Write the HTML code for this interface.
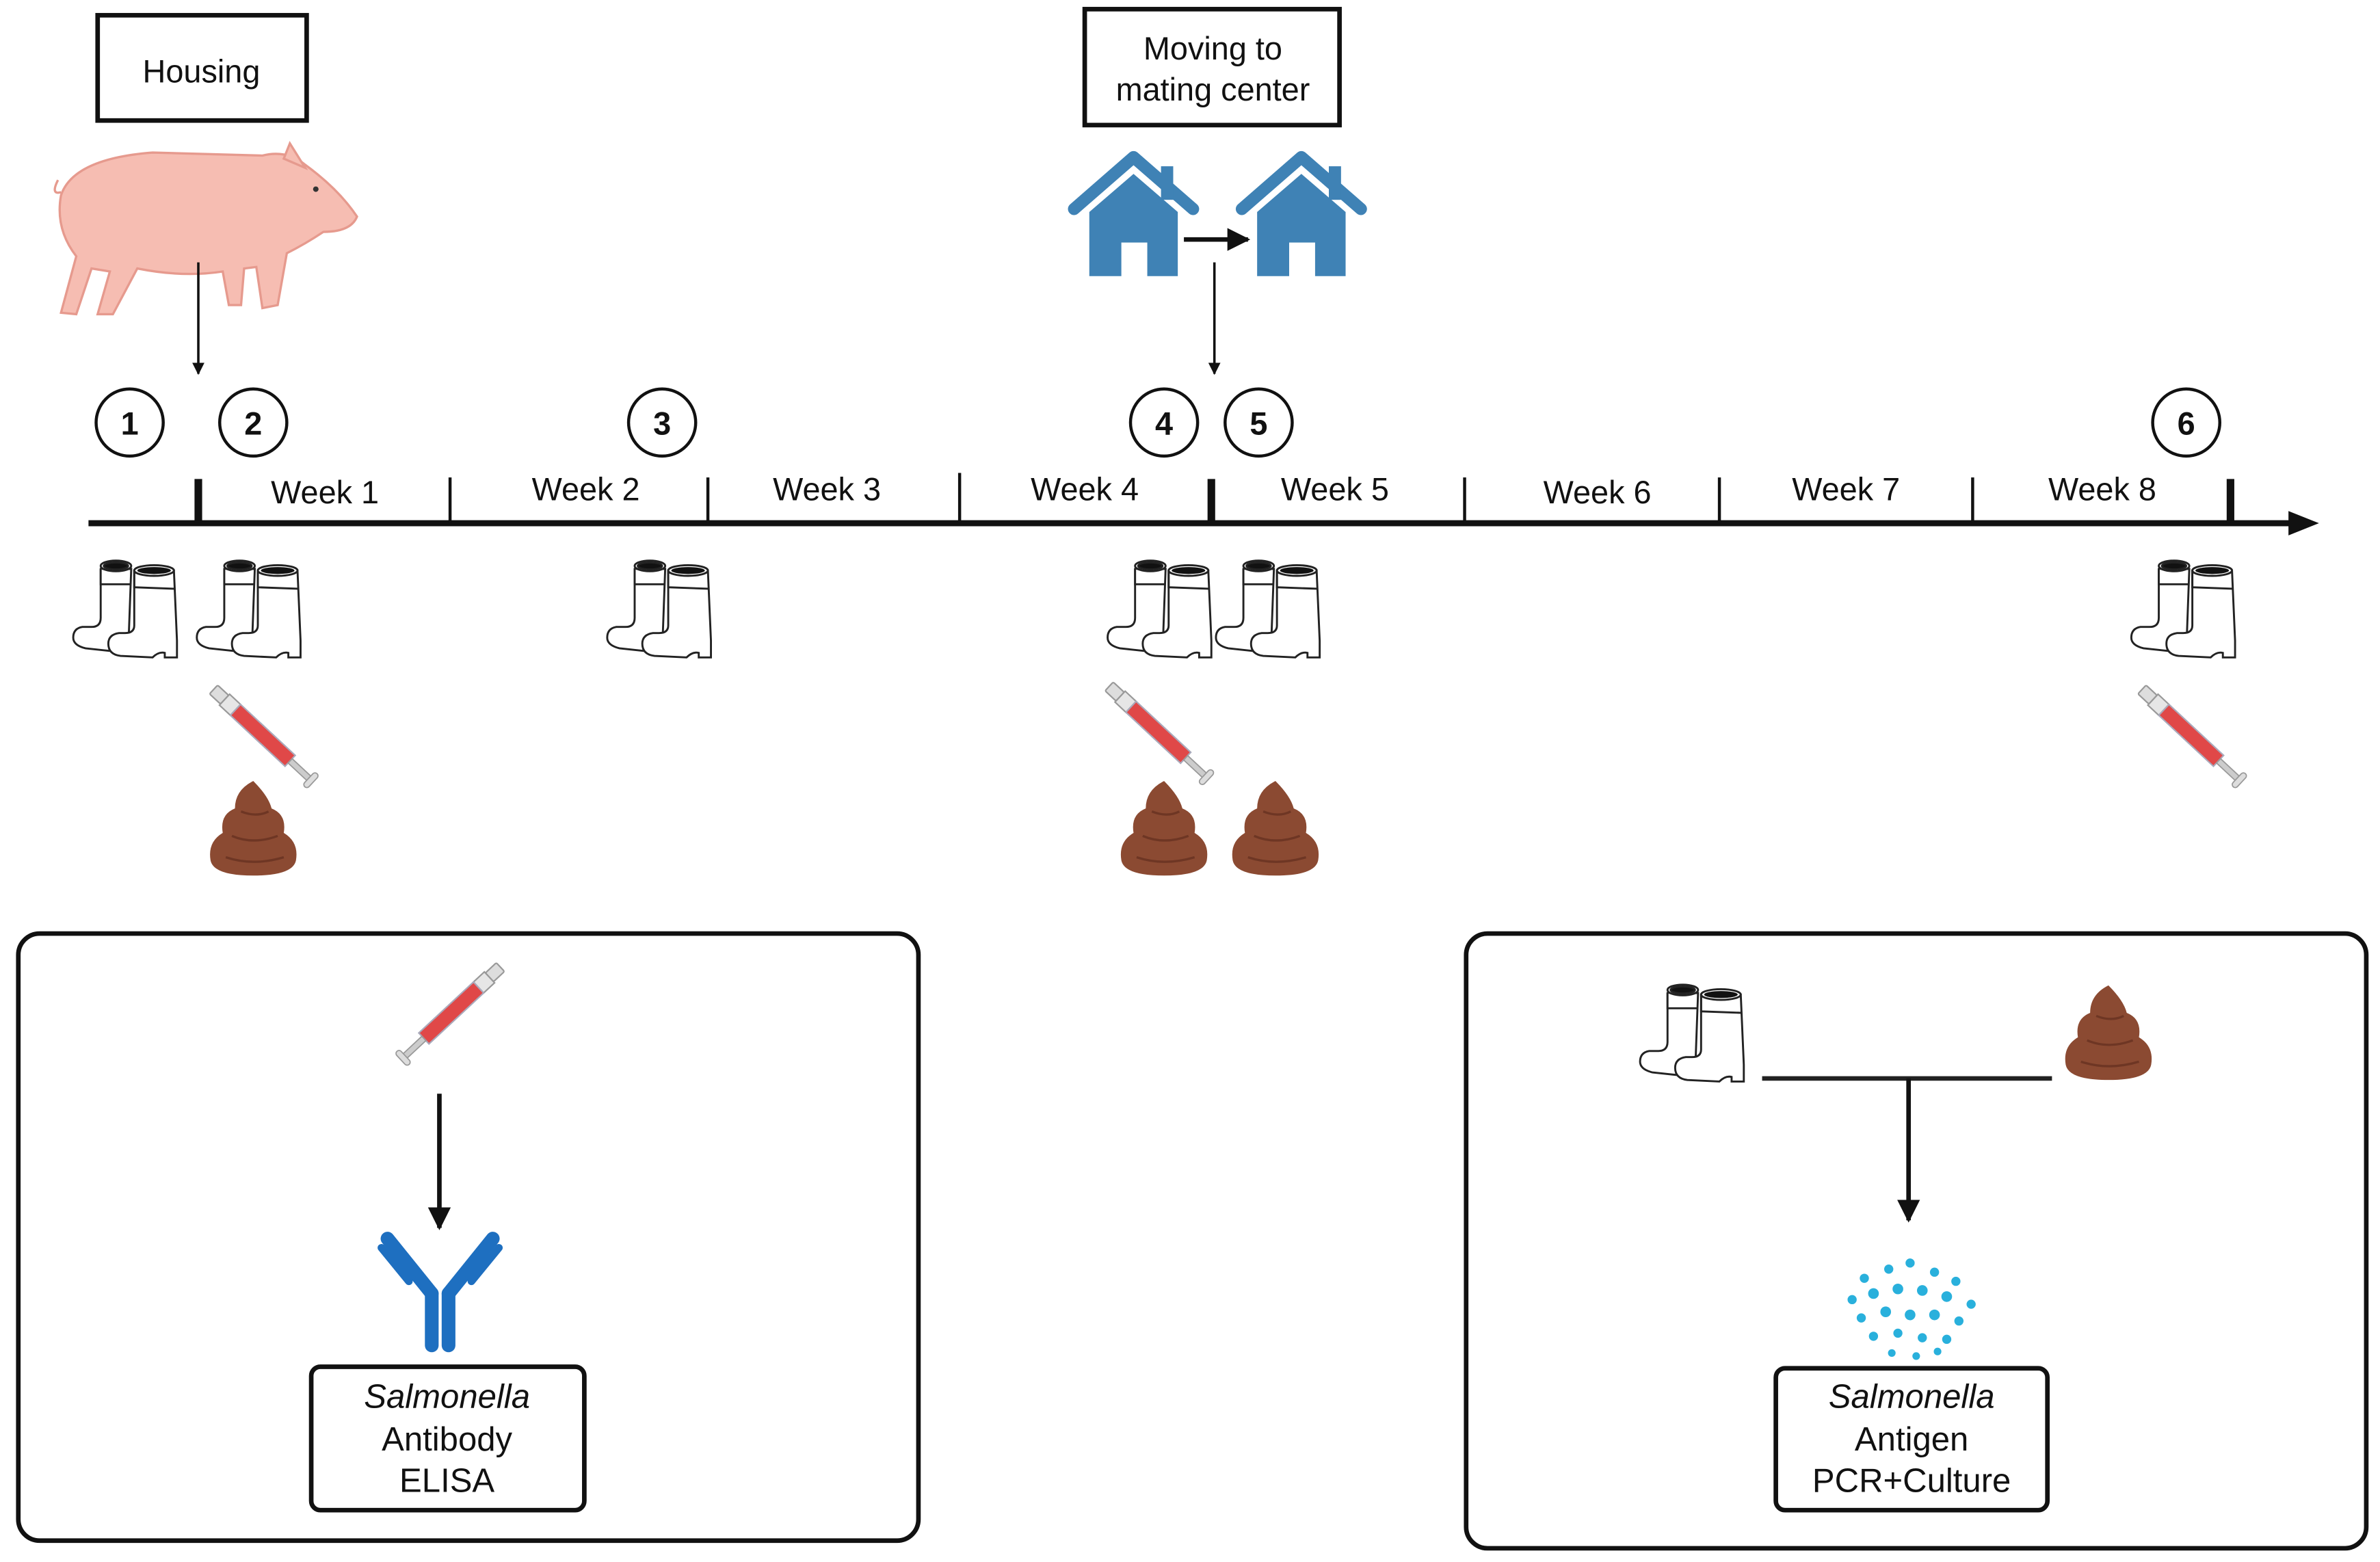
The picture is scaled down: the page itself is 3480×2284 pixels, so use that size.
<!DOCTYPE html>
<html><head><meta charset="utf-8"><style>
html,body{margin:0;padding:0;background:#fff;}
svg{display:block}
text{font-family:"Liberation Sans","DejaVu Sans",sans-serif;fill:#111;}
</style></head><body>
<svg width="3480" height="2284" viewBox="0 0 1560 1024" preserveAspectRatio="none" xmlns="http://www.w3.org/2000/svg">
<defs>
<marker id="ah" viewBox="0 0 10 10" refX="9" refY="5" markerWidth="5" markerHeight="5" orient="auto" markerUnits="strokeWidth"><path d="M0,0 L10,5 L0,10 z" fill="#111"/></marker>
<g id="boot1" fill="#fff" stroke="#222" stroke-width="1.3">
<path d="M18,8 L18,40 Q18,46 12,46 L6,46 Q0,47 0,53 Q0,58 8,60 L36,63 L38,8 Z"/>
<path d="M18,8 L18,18 L38,18"/>
<ellipse cx="28" cy="6" rx="10" ry="3.5" fill="#fff"/>
<ellipse cx="28" cy="6" rx="8" ry="2.3" fill="#111"/>
</g>
<g id="boots">
<use href="#boot1"/>
<g transform="translate(18,3)">
<path d="M22,6 L22,42 Q22,47 16,47 L12,47 Q5,48 5,54 Q5,61 13,62 L34,63 Q38,59 42,60 L42,63 L50,63 L50,52 L48,6 Z" fill="#fff" stroke="#222" stroke-width="1.3"/>
<path d="M22,6 L22,17 L49,18" fill="none" stroke="#222" stroke-width="1.3"/>
<ellipse cx="35" cy="6" rx="13" ry="3.5" fill="#fff" stroke="#222" stroke-width="1.3"/>
<ellipse cx="35" cy="6" rx="11" ry="2.3" fill="#111"/>
</g>
</g>
<g id="syr">
<rect x="0" y="-4" width="10" height="8" rx="1" fill="#ddd" stroke="#999" stroke-width="1"/>
<rect x="10" y="-5" width="10" height="10" fill="#e6e6e6" stroke="#999" stroke-width="1"/>
<rect x="20" y="-5" width="50" height="10" fill="#e04848" stroke="#aab" stroke-width="1"/>
<rect x="70" y="-2" width="18" height="4" fill="#ccc" stroke="#999" stroke-width="0.8"/>
<rect x="87" y="-6" width="4" height="12" rx="2" fill="#ddd" stroke="#999" stroke-width="0.8"/>
</g>
<g id="poop">
<path d="M26,0 Q14,6 14,18 Q4,22 6,34 Q-4,40 -2,52 Q0,62 26,62 Q52,62 54,52 Q56,40 46,34 Q48,22 38,18 Q36,10 26,0 Z" fill="#8b4a32"/>
<path d="M12,36 Q26,42 42,36 M8,50 Q26,56 46,50 M18,20 Q28,24 36,20" fill="none" stroke="#6e3624" stroke-width="1.5"/>
</g>
<g id="house" fill="#3f82b5">
<path d="M4,38 L43,4 L82,38" fill="none" stroke="#3f82b5" stroke-width="8" stroke-linecap="round" stroke-linejoin="round"/>
<rect x="61" y="10" width="8" height="22"/>
<path d="M14,40 L43,15 L72,40 L72,82 L52,82 L52,60 L35,60 L35,82 L14,82 Z"/>
</g>
</defs>

<rect x="64" y="10" width="137" height="69" fill="#fff" stroke="#111" stroke-width="3"/>
<text x="132" y="54" font-size="21" text-anchor="middle">Housing</text>
<rect x="711" y="6" width="167" height="76" fill="#fff" stroke="#111" stroke-width="3"/>
<text x="795" y="39" font-size="21" text-anchor="middle">Moving to</text>
<text x="795" y="66" font-size="21" text-anchor="middle">mating center</text>

<!-- pig -->
<g fill="#f6bdb2" stroke="#e69a8e" stroke-width="1.5">
<path d="M40,205 L50,168 Q36,150 40,128 Q48,104 100,100 L172,102 Q188,98 200,108 Q222,124 234,142 Q230,152 212,152 Q200,160 188,166 L182,200 L172,202 L168,175 L160,176 L158,200 L150,200 L146,178 Q120,182 90,176 L74,206 L64,206 L72,178 L60,176 L50,206 Z"/>
<path d="M186,104 L190,94 L200,110 Z"/>
<path d="M40,126 Q33,128 38,118" fill="none"/>
</g>
<circle cx="207" cy="124" r="1.8" fill="#333"/>

<use href="#house" x="700" y="99"/>
<use href="#house" x="810" y="99"/>
<line x1="776" y1="157" x2="818" y2="157" stroke="#111" stroke-width="3" marker-end="url(#ah)"/>

<line x1="130" y1="172" x2="130" y2="245" stroke="#111" stroke-width="1.6" marker-end="url(#ah)"/>
<line x1="796" y1="172" x2="796" y2="245" stroke="#111" stroke-width="1.6" marker-end="url(#ah)"/>

<g fill="#fff" stroke="#111" stroke-width="2">
<circle cx="85" cy="277" r="22"/><circle cx="166" cy="277" r="22"/><circle cx="434" cy="277" r="22"/>
<circle cx="763" cy="277" r="22"/><circle cx="825" cy="277" r="22"/><circle cx="1433" cy="277" r="22"/>
</g>
<g font-size="21" font-weight="bold" text-anchor="middle">
<text x="85" y="285">1</text><text x="166" y="285">2</text><text x="434" y="285">3</text>
<text x="763" y="285">4</text><text x="825" y="285">5</text><text x="1433" y="285">6</text>
</g>

<line x1="58" y1="343" x2="1505" y2="343" stroke="#111" stroke-width="4"/>
<path d="M1500,335 L1520,343 L1500,351 Z" fill="#111"/>
<g stroke="#111" stroke-width="5"><line x1="130" y1="314" x2="130" y2="343"/><line x1="794" y1="314" x2="794" y2="343"/><line x1="1462" y1="314" x2="1462" y2="343"/></g>
<g stroke="#111" stroke-width="2"><line x1="295" y1="313" x2="295" y2="343"/><line x1="464" y1="313" x2="464" y2="343"/><line x1="629" y1="310" x2="629" y2="343"/><line x1="960" y1="313" x2="960" y2="343"/><line x1="1127" y1="313" x2="1127" y2="343"/><line x1="1293" y1="313" x2="1293" y2="343"/></g>
<g font-size="21" text-anchor="middle">
<text x="213" y="330">Week 1</text><text x="384" y="328">Week 2</text><text x="542" y="328">Week 3</text>
<text x="711" y="328">Week 4</text><text x="875" y="328">Week 5</text><text x="1047" y="330">Week 6</text>
<text x="1210" y="328">Week 7</text><text x="1378" y="328">Week 8</text>
</g>

<use href="#boots" x="48" y="365"/><use href="#boots" x="129" y="365"/><use href="#boots" x="398" y="365"/>
<use href="#boots" x="726" y="365"/><use href="#boots" x="797" y="365"/><use href="#boots" x="1397" y="365"/>

<use href="#syr" transform="translate(140,452) rotate(43) scale(0.98)"/>
<use href="#syr" transform="translate(727,450) rotate(43) scale(0.98)"/>
<use href="#syr" transform="translate(1404,452) rotate(43) scale(0.98)"/>

<use href="#poop" x="140" y="512"/>
<use href="#poop" x="737" y="512"/>
<use href="#poop" x="810" y="512"/>

<rect x="12" y="612" width="590" height="398" rx="14" fill="none" stroke="#111" stroke-width="3"/>
<use href="#syr" transform="translate(328,634) rotate(137) scale(0.98)"/>
<line x1="288" y1="717" x2="288" y2="805" stroke="#111" stroke-width="3" marker-end="url(#ah)"/>
<g stroke="#1e6fc0" stroke-width="9" stroke-linecap="round" fill="none">
<line x1="283" y1="848" x2="283" y2="882"/><line x1="294" y1="848" x2="294" y2="882"/>
<line x1="283" y1="848" x2="254" y2="812"/><line x1="294" y1="848" x2="323" y2="812"/>
<line x1="268" y1="840" x2="250" y2="818" stroke-width="5"/><line x1="309" y1="840" x2="327" y2="818" stroke-width="5"/>
</g>
<rect x="204" y="896" width="179" height="94" rx="6" fill="#fff" stroke="#111" stroke-width="3"/>
<g font-size="22" text-anchor="middle">
<text x="293" y="923" font-style="italic">Salmonella</text><text x="293" y="951">Antibody</text><text x="293" y="978">ELISA</text>
</g>

<rect x="961" y="612" width="590" height="403" rx="14" fill="none" stroke="#111" stroke-width="3"/>
<use href="#boots" x="1075" y="643"/>
<use href="#poop" x="1356" y="646"/>
<line x1="1155" y1="707" x2="1345" y2="707" stroke="#222" stroke-width="3"/>
<line x1="1251" y1="707" x2="1251" y2="800" stroke="#111" stroke-width="3" marker-end="url(#ah)"/>
<g fill="#29b0dc">
<circle cx="1222" cy="838" r="3"/><circle cx="1238" cy="832" r="3"/><circle cx="1252" cy="828" r="3"/><circle cx="1268" cy="834" r="3"/><circle cx="1282" cy="840" r="3"/>
<circle cx="1214" cy="852" r="3"/><circle cx="1228" cy="848" r="3.5"/><circle cx="1244" cy="845" r="3.5"/><circle cx="1260" cy="846" r="3.5"/><circle cx="1276" cy="850" r="3.5"/><circle cx="1292" cy="855" r="3"/>
<circle cx="1220" cy="864" r="3"/><circle cx="1236" cy="860" r="3.5"/><circle cx="1252" cy="862" r="3.5"/><circle cx="1268" cy="862" r="3.5"/><circle cx="1284" cy="866" r="3"/>
<circle cx="1228" cy="876" r="3"/><circle cx="1244" cy="874" r="3"/><circle cx="1260" cy="877" r="3"/><circle cx="1276" cy="878" r="3"/>
<circle cx="1240" cy="887" r="2.5"/><circle cx="1256" cy="889" r="2.5"/><circle cx="1270" cy="886" r="2.5"/>
</g>
<rect x="1164" y="897" width="178" height="93" rx="6" fill="#fff" stroke="#111" stroke-width="3"/>
<g font-size="22" text-anchor="middle">
<text x="1253" y="923" font-style="italic">Salmonella</text><text x="1253" y="951">Antigen</text><text x="1253" y="978">PCR+Culture</text>
</g>
</svg>
</body></html>
